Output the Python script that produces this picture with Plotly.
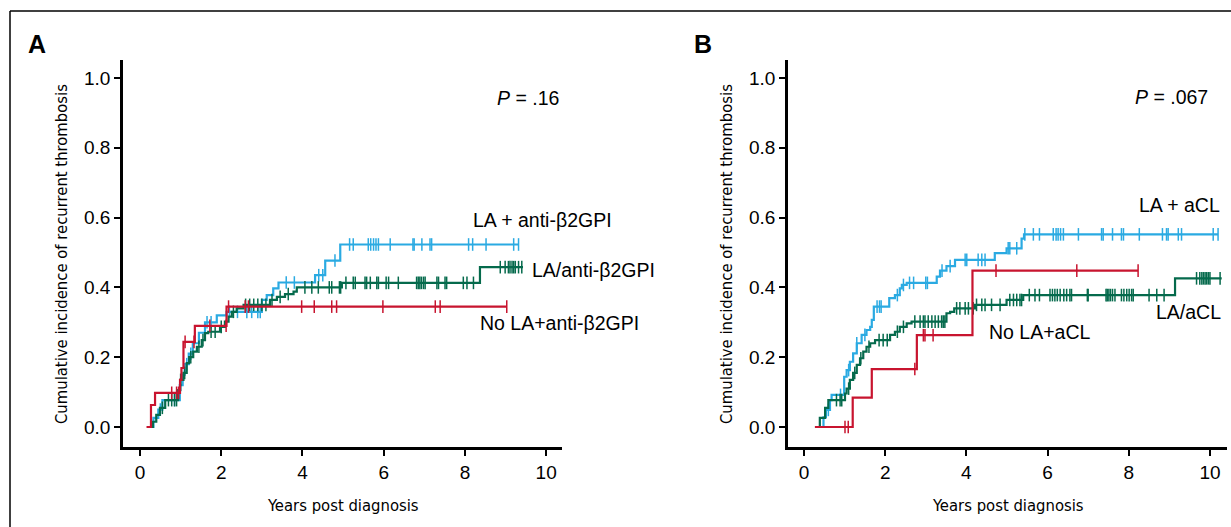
import numpy as np
import plotly.graph_objects as go

# ---------------- data ----------------
# Panel A
a_blue_t = [0.2, 0.33, 0.45, 0.55, 0.98, 1.05, 1.1, 1.2, 1.3, 1.45, 1.6, 1.89, 2.13, 3.0, 3.12, 3.28, 3.41, 4.31, 4.56, 4.93]
a_blue_v = [0, 0.026, 0.05, 0.077, 0.12, 0.15, 0.18, 0.21, 0.24, 0.27, 0.3, 0.32, 0.33, 0.364, 0.378, 0.397, 0.414, 0.435, 0.477, 0.523]
a_blue_end = 9.32
a_blue_cens = [0.5, 0.85, 1.0, 1.15, 1.25, 1.65, 1.75, 2.2, 2.4, 2.63, 2.75, 2.9, 2.96, 3.6, 3.8, 4.4, 4.5, 4.8,
               5.16, 5.25, 5.62, 5.68, 5.75, 5.81, 5.87, 6.16, 6.72, 6.75, 6.94, 7.14, 7.18, 8.09, 8.19, 8.52, 9.2, 9.32]

a_green_t = [0.25, 0.32, 0.4, 0.49, 0.62, 0.94, 0.99, 1.07, 1.15, 1.21, 1.31, 1.40, 1.52, 1.60, 1.68, 1.97, 2.09,
             2.18, 2.26, 2.38, 2.55, 3.20, 3.37, 3.57, 3.78, 3.86, 4.97, 8.37]
a_green_v = [0, 0.015, 0.035, 0.055, 0.077, 0.106, 0.135, 0.155, 0.183, 0.2, 0.216, 0.23, 0.249, 0.269, 0.273, 0.287,
             0.302, 0.316, 0.33, 0.34, 0.35, 0.364, 0.373, 0.381, 0.388, 0.40, 0.413, 0.458]
a_green_end = 9.43
a_green_cens = [0.55, 0.7, 0.78, 0.85, 0.9, 1.0, 1.1, 1.25, 1.45, 1.55, 1.75, 1.85, 2.0, 2.3, 2.6, 2.7, 2.8, 2.9, 3.0,
                3.1, 3.25, 3.45, 3.65, 4.06, 4.23, 4.39, 4.66, 4.72, 4.91, 4.94, 5.07, 5.25, 5.3, 5.54, 5.58, 5.67,
                5.83, 5.87, 6.06, 6.12, 6.36, 6.81, 6.85, 6.89, 6.93, 6.98, 7.02, 7.31, 7.35, 7.51, 7.55, 7.96, 8.05,
                8.21, 8.87, 8.99, 9.07, 9.11, 9.16, 9.2, 9.24, 9.32, 9.4]

a_red_t = [0.16, 0.27, 0.37, 0.985, 1.02, 1.07, 1.35, 2.13]
a_red_v = [0, 0.063, 0.098, 0.135, 0.169, 0.244, 0.29, 0.345]
a_red_end = 9.03
a_red_cens = [0.78, 0.9, 0.95, 1.11, 1.33, 1.72, 2.12, 2.18, 2.59, 2.67, 3.98, 4.29, 4.72, 4.84, 5.98, 7.27, 7.39, 9.03]

# Panel B
b_blue_t = [0.27, 0.48, 0.54, 0.64, 0.68, 0.99, 1.05, 1.13, 1.21, 1.3, 1.42, 1.54, 1.63, 1.67, 1.72, 2.1, 2.24, 2.36,
            2.41, 2.53, 3.27, 3.35, 3.51, 3.72, 4.7, 4.99, 5.36, 5.42]
b_blue_v = [0, 0.028, 0.049, 0.077, 0.092, 0.144, 0.163, 0.187, 0.211, 0.24, 0.264, 0.278, 0.287, 0.307, 0.345, 0.369,
            0.378, 0.397, 0.407, 0.413, 0.431, 0.448, 0.461, 0.479, 0.498, 0.512, 0.54, 0.552]
b_blue_end = 10.2
b_blue_cens = [0.6, 0.9, 1.1, 1.3, 1.5, 1.8, 1.86, 1.9, 2.3, 2.45, 2.6, 2.7, 3.0, 3.04, 3.4, 3.6, 3.97, 4.01, 4.29,
               4.38, 4.46, 5.03, 5.07, 5.24, 5.44, 5.65, 5.8, 6.14, 6.21, 6.26, 6.32, 6.39, 6.76, 7.33, 7.37, 7.6,
               7.82, 7.87, 8.26, 8.83, 8.93, 8.97, 9.22, 9.3, 10.08, 10.2]

b_green_t = [0.27, 0.39, 0.52, 0.6, 1.01, 1.05, 1.13, 1.21, 1.3, 1.38, 1.46, 1.54, 1.63, 1.75, 2.12, 2.24, 2.36, 2.53,
             2.65, 3.51, 3.6, 3.7, 4.21, 4.99, 5.4, 9.14]
b_green_v = [0, 0.026, 0.055, 0.077, 0.096, 0.11, 0.135, 0.155, 0.178, 0.197, 0.216, 0.23, 0.24, 0.249, 0.264, 0.273,
             0.287, 0.297, 0.302, 0.326, 0.33, 0.34, 0.35, 0.364, 0.378, 0.426]
b_green_end = 10.29
b_green_cens = [0.8, 0.89, 0.93, 1.1, 1.25, 1.4, 1.6, 1.85, 1.95, 2.05, 2.3, 2.45, 2.73, 2.86, 2.94, 2.98, 3.06, 3.15,
                3.23, 3.31, 3.39, 3.43, 3.47, 3.76, 3.84, 3.97, 4.05, 4.17, 4.25, 4.38, 4.46, 4.62, 4.83, 5.07, 5.16,
                5.24, 5.32, 5.36, 5.55, 5.69, 5.8, 6.06, 6.12, 6.18, 6.24, 6.31, 6.4, 6.47, 6.55, 6.59, 6.98, 7.0,
                7.44, 7.47, 7.51, 7.55, 7.6, 7.66, 7.82, 7.88, 7.95, 8.01, 8.07, 8.11, 8.5, 8.69, 8.87, 9.67, 9.75,
                9.8, 9.84, 9.88, 9.92, 9.96, 10.0, 10.25]

b_red_t = [0.27, 1.2, 1.67, 2.78, 4.15]
b_red_v = [0, 0.084, 0.166, 0.263, 0.448]
b_red_end = 8.23
b_red_cens = [1.01, 1.09, 2.73, 2.94, 2.98, 3.18, 4.73, 6.72, 8.23]

x_ticks = [0, 2, 4, 6, 8, 10]
y_ticks = [0.0, 0.2, 0.4, 0.6, 0.8, 1.0]

BLUE = "#2aaae2"
GREEN = "#056a4c"
RED = "#c8142f"

W, H = 1231, 527

fig = go.Figure()


def add_km(t, v, end, cens, color, xa, ya):
    t = np.asarray(t, float)
    v = np.asarray(v, float)
    xs = np.append(t, end)
    ys = np.append(v, v[-1])
    fig.add_trace(go.Scatter(x=xs, y=ys, mode="lines", line=dict(color=color, width=2.2, shape="hv"),
                             xaxis=xa, yaxis=ya, showlegend=False, hoverinfo="skip"))
    c = np.asarray(cens, float)
    idx = np.searchsorted(t, c, side="right") - 1
    fig.add_trace(go.Scatter(x=c, y=v[idx], mode="markers",
                             marker=dict(symbol="line-ns", size=9, line=dict(color=color, width=1.5)),
                             xaxis=xa, yaxis=ya, showlegend=False, hoverinfo="skip"))


add_km(a_blue_t, a_blue_v, a_blue_end, a_blue_cens, BLUE, "x", "y")
add_km(a_green_t, a_green_v, a_green_end, a_green_cens, GREEN, "x", "y")
add_km(a_red_t, a_red_v, a_red_end, a_red_cens, RED, "x", "y")

add_km(b_blue_t, b_blue_v, b_blue_end, b_blue_cens, BLUE, "x2", "y2")
add_km(b_green_t, b_green_v, b_green_end, b_green_cens, GREEN, "x2", "y2")
add_km(b_red_t, b_red_v, b_red_end, b_red_cens, RED, "x2", "y2")

TICKFONT = dict(family="Liberation Sans, Arial, sans-serif", size=19, color="black")
TITLEFONT = dict(family="Liberation Sans Narrow, DejaVu Sans Condensed, Arial Narrow, sans-serif", size=16.5, color="black")

ydom = [1 - 447 / H, 1 - 60 / H]
axis_common = dict(showline=True, linewidth=2.6, linecolor="black", ticks="outside", ticklen=6, tickwidth=2,
                   tickcolor="black", showgrid=False, zeroline=False, tickfont=TICKFONT)

fig.update_layout(
    width=W, height=H, margin=dict(l=0, r=0, t=0, b=0),
    paper_bgcolor="white", plot_bgcolor="white",
    xaxis=dict(domain=[123 / W, 562 / W], range=[-0.419, 10.39], tickvals=x_ticks, anchor="y", **axis_common),
    yaxis=dict(domain=ydom, range=[-0.0573, 1.0516], tickvals=y_ticks, tickformat=".1f", anchor="x", **axis_common),
    xaxis2=dict(domain=[788 / W, 1227 / W], range=[-0.394, 10.42], tickvals=x_ticks, anchor="y2", **axis_common),
    yaxis2=dict(domain=ydom, range=[-0.0573, 1.0516], tickvals=y_ticks, tickformat=".1f", anchor="x2", **axis_common),
)

LBL = dict(family="Liberation Sans, Arial, sans-serif", size=19.5, color="black")
ann = []
# axis titles
for cx in [(123 + 562) / 2, (788 + 1227) / 2]:
    ann.append(dict(text="Years post diagnosis", xref="paper", yref="paper", x=cx / W, y=1 - 505 / H,
                    showarrow=False, font=TITLEFONT, xanchor="center", yanchor="middle"))
for cx in [62, 727]:
    ann.append(dict(text="Cumulative incidence of recurrent thrombosis", xref="paper", yref="paper", x=cx / W,
                    y=1 - 254 / H, textangle=-90, showarrow=False, font=TITLEFONT, xanchor="center",
                    yanchor="middle"))
# panel letters
ann.append(dict(text="<b>A</b>", xref="paper", yref="paper", x=37 / W, y=1 - 44 / H, showarrow=False,
                xanchor="center", yanchor="middle",
                font=dict(family="Liberation Sans, Arial, sans-serif", size=25, color="black")))
ann.append(dict(text="<b>B</b>", xref="paper", yref="paper", x=703 / W, y=1 - 44 / H, showarrow=False,
                xanchor="center", yanchor="middle",
                font=dict(family="Liberation Sans, Arial, sans-serif", size=25, color="black")))
# curve labels
ann += [
    dict(text="LA + anti-β2GPI", xref="x", yref="y", x=9.9, y=0.593, showarrow=False, font=LBL,
         xanchor="center", yanchor="middle"),
    dict(text="LA/anti-β2GPI", xref="x", yref="y", x=9.6, y=0.45, showarrow=False, font=LBL,
         xanchor="left", yanchor="middle"),
    dict(text="No LA+anti-β2GPI", xref="x", yref="y", x=8.33, y=0.298, showarrow=False, font=LBL,
         xanchor="left", yanchor="middle"),
    dict(text="<i>P</i> = .16", xref="x", yref="y", x=8.74, y=0.943, showarrow=False, font=LBL,
         xanchor="left", yanchor="middle"),
    dict(text="LA + aCL", xref="x2", yref="y2", x=10.29, y=0.636, showarrow=False, font=LBL,
         xanchor="right", yanchor="middle"),
    dict(text="LA/aCL", xref="x2", yref="y2", x=10.31, y=0.33, showarrow=False, font=LBL,
         xanchor="right", yanchor="middle"),
    dict(text="No LA+aCL", xref="x2", yref="y2", x=4.5, y=0.273, showarrow=False, font=LBL,
         xanchor="left", yanchor="middle"),
    dict(text="<i>P</i> = .067", xref="x2", yref="y2", x=8.11, y=0.946, showarrow=False, font=LBL,
         xanchor="left", yanchor="middle"),
]
fig.update_layout(annotations=ann)

# outer frame (top and left edges)
fig.add_shape(type="line", xref="paper", yref="paper", x0=10 / W, x1=1.0, y0=1 - 11 / H, y1=1 - 11 / H,
              line=dict(color="black", width=1.5))
fig.add_shape(type="line", xref="paper", yref="paper", x0=10 / W, x1=10 / W, y0=0, y1=1 - 11 / H,
              line=dict(color="black", width=1.5))

fig.write_html("out.html", config={"displayModeBar": False},
               post_script="document.body.style.margin='0px';document.body.style.overflow='hidden';")
